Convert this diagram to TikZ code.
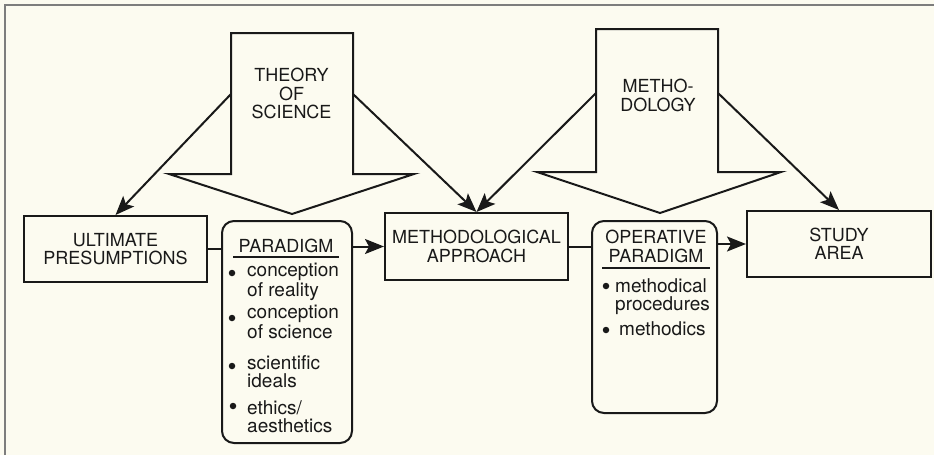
\documentclass[tikz,border=0pt]{standalone}
\usepackage{fontspec}
\setmainfont{TeX Gyre Heros}
\usetikzlibrary{arrows.meta,calc}
\definecolor{paper}{RGB}{252,251,240}
\definecolor{ink}{RGB}{25,25,25}
\definecolor{rulegray}{RGB}{125,125,125}

\begin{document}
\begin{tikzpicture}[x=1pt,y=-1pt,
  link/.style={draw=ink,line width=2pt},
  arrow/.style={link,-{Stealth[length=19pt,width=15pt,inset=4pt]}},
  boxnode/.style={draw=ink,line width=2pt,inner sep=0pt,align=center,
    text=ink,font=\fontsize{18}{18.5}\selectfont},
  roundbox/.style={boxnode,rounded corners=12pt},
  blockarrow/.style={draw=ink,line width=2pt,line join=miter,fill=paper},
  caps/.style={font=\fontsize{18}{18.5}\selectfont,align=center,inner sep=0pt,text=ink},
  item/.style={font=\fontsize{19}{17.5}\selectfont,align=left,anchor=base west,
    inner sep=0pt,text=ink},
  dot/.style={circle,fill=ink,inner sep=0pt,minimum size=6.5pt}]

% page and frame
\fill[paper] (0,0) rectangle (934,455);
\useasboundingbox (0,0) rectangle (934,455);
\draw[rulegray,line width=1.5pt] (5,455) -- (5,5) -- (934,5);

% block arrows
\draw[blockarrow] (231,33) -- (353,33) -- (353,174) -- (414,174) -- (292,214)
  -- (169,174) -- (231,174) -- cycle;
\node[caps] (ts) at (291.5,93.5) {THEORY\\OF\\SCIENCE};
\draw[blockarrow] (596,29) -- (718,29) -- (718,172) -- (781,172) -- (660,213)
  -- (537,172) -- (596,172) -- cycle;
\node[caps] (meth) at (658,95.5) {METHO-\\DOLOGY};

\coordinate (ts-w) at (231,94);
\coordinate (ts-e) at (353,94);
\coordinate (me-w) at (596,93);
\coordinate (me-e) at (718,93);

% main row
\node[boxnode,minimum width=183pt,minimum height=66pt] (up) at (115.5,249)
  {ULTIMATE\\PRESUMPTIONS};
\node[roundbox,minimum width=130pt,minimum height=222pt] (pd) at (287,332) {};
\node[boxnode,minimum width=183pt,minimum height=67pt] (ma) at (476.5,246.5)
  {METHODOLOGICAL\\APPROACH};
\node[roundbox,minimum width=125pt,minimum height=192pt] (op) at (654.5,317) {};
\node[boxnode,minimum width=184pt,minimum height=66pt] (sa) at (839,244)
  {STUDY\\AREA};

% paradigm contents (base anchor = baseline of the last line)
\node[caps,anchor=base] (pd-head) at (286,252) {PARADIGM};
\draw[ink,line width=1.6pt] (233,257) -- (339,257);
\node[dot] (pd-d1) at (232,273) {};
\node[item] (pd-t1) at (247,296) {conception\\of reality};
\node[dot] (pd-d2) at (232,318) {};
\node[item] (pd-t2) at (247,338) {conception\\of science};
\node[dot] (pd-d3) at (232,366) {};
\node[item] (pd-t3) at (247,387) {scientific\\ideals};
\node[dot] (pd-d4) at (233,406) {};
\node[item] (pd-t4) at (247,432) {ethics/\\aesthetics};

% operative paradigm contents
\node[caps,anchor=base,font=\fontsize{18}{19}\selectfont] (op-head) at (656,262)
  {OPERATIVE\\PARADIGM};
\draw[ink,line width=1.6pt] (602,268) -- (710,268);
\node[dot] (op-d1) at (606,286) {};
\node[item] (op-t1) at (615,310) {methodical\\procedures};
\node[dot] (op-d2) at (606,330) {};
\node[item] (op-t2) at (619,335) {methodics};

% connectors
\draw[arrow] (ts-w) -- (up.north);
\draw[arrow] (ts-e) -- (ma.north);
\draw[arrow] (me-w) -- (ma.north);
\draw[arrow] (me-e) -- (sa.north);
\draw[link] (up.east) -- (up.east -| pd.west);
\draw[arrow] (ma.west -| pd.east) -- (ma.west);
\draw[link] (ma.east) -- (ma.east -| op.west);
\draw[arrow] (sa.west -| op.east) -- (sa.west);
\end{tikzpicture}
\end{document}
